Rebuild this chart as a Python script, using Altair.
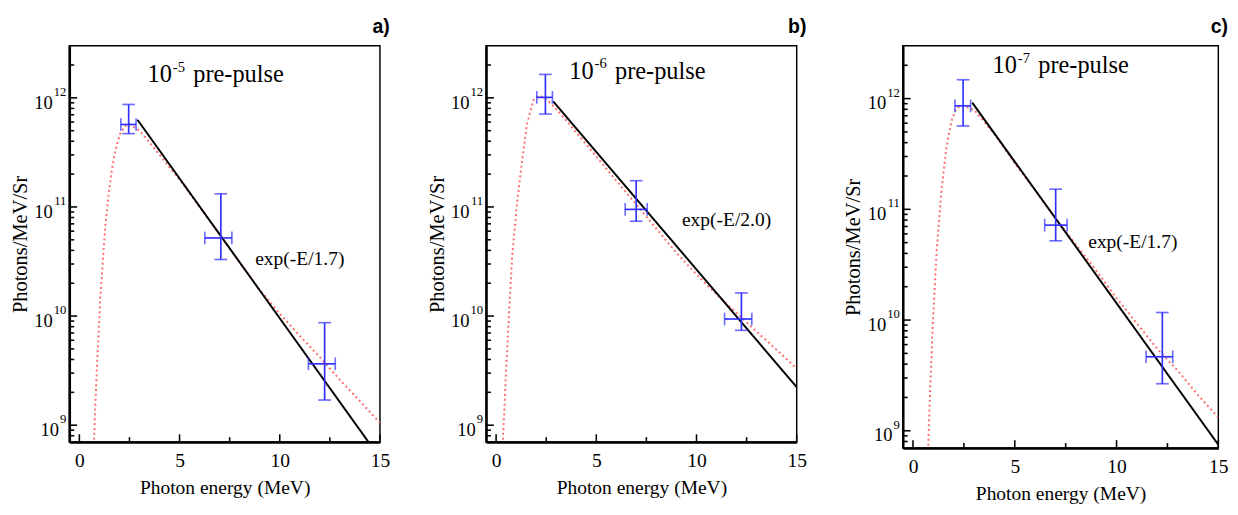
import altair as alt
import pandas as pd

# ---------------- data ----------------
panel_tags = ["a)", "b)", "c)"]
prepulse_exps = ["-5", "-6", "-7"]
fit_labels = ["exp(-E/1.7)", "exp(-E/2.0)", "exp(-E/1.7)"]

# measured points (energy in MeV, photons/MeV/Sr) with error ranges
pt_e = [[2.46, 7.06, 12.24], [2.46, 6.99, 12.24], [2.46, 7.01, 12.25]]
pt_e_lo = [[2.07, 6.26, 11.43], [2.03, 6.44, 11.40], [2.06, 6.47, 11.45]]
pt_e_hi = [[2.83, 7.61, 12.77], [2.81, 7.54, 12.76], [2.83, 7.57, 12.76]]
pt_n = [[5.7e11, 5.2e10, 3.65e9], [1.01e12, 9.5e10, 9.4e9], [8.6e11, 7.2e10, 4.66e9]]
pt_n_lo = [[4.7e11, 3.3e10, 1.7e9], [7.1e11, 7.4e10, 7.4e9], [5.66e11, 5.2e10, 2.66e9]]
pt_n_hi = [[8.7e11, 1.32e11, 8.7e9], [1.64e12, 1.74e11, 1.63e10], [1.48e12, 1.52e11, 1.17e10]]

# exponential fit lines (end points)
fit_e = [[2.90, 15.0], [2.85, 15.0], [2.91, 15.0]]
fit_n = [[6.3e11, 5.0e8], [9.3e11, 2.23e9], [9.2e11, 7.5e8]]

# simulated spectra (red dotted)
sim_e_a = [0.72, 0.80, 0.89, 1.05, 1.17, 1.30, 1.45, 1.62, 1.80, 2.02, 2.27, 2.5, 3.0, 3.5,
           4, 5, 6, 7, 8, 9, 10, 11, 12, 13, 14, 15]
sim_n_a = [6.0e8, 1.6e9, 3.8e9, 1.5e10, 3.2e10, 6.8e10, 1.26e11, 2.2e11, 3.3e11, 4.65e11,
           5.5e11, 5.75e11, 5.0e11, 3.9e11, 3.0e11, 1.78e11, 1.0e11, 5.6e10, 3.1e10,
           1.74e10, 1.05e10, 6.6e9, 4.2e9, 2.6e9, 1.66e9, 1.05e9]
sim_e_b = [0.32, 0.50, 0.65, 0.81, 1.05, 1.30, 1.54, 1.86, 2.1, 2.5, 3.0, 3.65, 4, 5, 6, 7,
           8, 9, 10, 11, 12, 13, 14, 15]
sim_n_b = [6.0e8, 3.2e9, 1.12e10, 3.7e10, 1.1e11, 2.7e11, 5.75e11, 9.5e11, 1.05e12, 9.8e11,
           7.9e11, 5.75e11, 4.8e11, 2.9e11, 1.74e11, 1.05e11, 6.3e10, 3.8e10, 2.4e10,
           1.58e10, 1.07e10, 7.2e9, 4.9e9, 3.3e9]
sim_e_c = [0.73, 0.85, 0.97, 1.16, 1.40, 1.64, 1.88, 2.12, 2.4, 3, 4, 5, 6, 7, 8, 9, 10,
           11, 12, 13, 14, 15]
sim_n_c = [6.0e8, 2.5e9, 8.9e9, 4.2e10, 1.5e11, 3.6e11, 6.2e11, 8.1e11, 8.7e11, 7.9e11,
           4.8e11, 2.6e11, 1.48e11, 8.3e10, 4.8e10, 2.8e10, 1.58e10, 9.3e9, 5.5e9, 3.5e9,
           2.1e9, 1.32e9]
sim_e = [sim_e_a, sim_e_b, sim_e_c]
sim_n = [sim_n_a, sim_n_b, sim_n_c]

# annotation anchor points (data coordinates; title given at its text baseline)
title_e = [7.14, 7.39, 7.59]
title_n = [1.39e12, 1.5e12, 1.69e12]
label_e = [11.0, 11.5, 10.8]
label_n = [3.3e10, 7.5e10, 5.1e10]

# axes
x_domain = [-0.5, 15]
y_domain = [7e8, 3e12]
x_major = [0, 5, 10, 15]
x_minor = [2.5, 7.5, 12.5]
y_major = [1e9, 1e10, 1e11, 1e12]
y_major_exp = ["9", "10", "11", "12"]
y_minor = [8e8, 9e8] + [m * d for d in [1e9, 1e10, 1e11] for m in range(2, 10)] + [2e12]

widths = [319, 319, 324]
heights = [407, 407, 413]

SERIF = "Liberation Serif"
BLUE = "#2f2fff"
RED = "#ff6b6b"

xs = alt.Scale(domain=x_domain, nice=False, zero=False)
ys = alt.Scale(type="log", domain=y_domain, nice=False)

XAXIS = alt.Axis(values=x_major, format="d", labelFontSize=20, labelPadding=9,
                 labelFlush=False, title="Photon energy (MeV)", titleFontSize=20,
                 titlePadding=8, ticks=False, grid=False, domainWidth=2.5,
                 domainColor="black")
YAXIS = alt.Axis(values=y_major, labels=False, title="Photons/MeV/Sr", titleFontSize=21,
                 titlePadding=40, ticks=False, grid=False, domainWidth=2.5,
                 domainColor="black")


def X(field):
    return alt.X(field, type="quantitative", scale=xs, axis=XAXIS)


def Y(field):
    return alt.Y(field, type="quantitative", scale=ys, axis=YAXIS)


def make_panel(i):
    w, h = widths[i], heights[i]
    sim = pd.DataFrame({"e": sim_e[i], "n": sim_n[i]})
    fit = pd.DataFrame({"e": fit_e[i], "n": fit_n[i]})
    pts = pd.DataFrame({"e": pt_e[i], "elo": pt_e_lo[i], "ehi": pt_e_hi[i],
                        "n": pt_n[i], "nlo": pt_n_lo[i], "nhi": pt_n_hi[i]})

    red = alt.Chart(sim).mark_line(color=RED, strokeDash=[2, 3], strokeWidth=2,
                                   clip=True).encode(x=X("e"), y=Y("n"))
    black = alt.Chart(fit).mark_line(color="black", strokeWidth=2, clip=True).encode(
        x=X("e"), y=Y("n"))
    vbar = alt.Chart(pts).mark_rule(color=BLUE, strokeWidth=1.7).encode(
        x=X("e"), y=Y("nlo"), y2="nhi")
    hbar = alt.Chart(pts).mark_rule(color=BLUE, strokeWidth=1.7).encode(
        x=X("elo"), x2="ehi", y=Y("n"))
    caps = []
    for fx, fy, ori in [("e", "nlo", "horizontal"), ("e", "nhi", "horizontal"),
                        ("elo", "n", "vertical"), ("ehi", "n", "vertical")]:
        caps.append(alt.Chart(pts).mark_tick(color=BLUE, orient=ori, size=13,
                                             thickness=1.7).encode(x=X(fx), y=Y(fy)))

    # inward ticks
    ymaj = alt.Chart(pd.DataFrame({"v": y_major})).mark_rule(color="black", strokeWidth=1.6).encode(
        y=Y("v"), x=alt.value(0), x2=alt.value(8))
    ymin = alt.Chart(pd.DataFrame({"v": y_minor})).mark_rule(color="black", strokeWidth=1.6).encode(
        y=Y("v"), x=alt.value(0), x2=alt.value(5))
    xmaj = alt.Chart(pd.DataFrame({"v": x_major})).mark_rule(color="black", strokeWidth=1.6).encode(
        x=X("v"), y=alt.value(h), y2=alt.value(h - 8))
    xmin = alt.Chart(pd.DataFrame({"v": x_minor})).mark_rule(color="black", strokeWidth=1.6).encode(
        x=X("v"), y=alt.value(h), y2=alt.value(h - 5))

    # y tick labels: "10" with a raised exponent
    ylab = pd.DataFrame({"v": y_major, "ex": y_major_exp,
                         "base": ["10"] * len(y_major),
                         "nch": [len(s) for s in y_major_exp]})
    ytext = []
    for nch in (1, 2):
        sub = ylab[ylab["nch"] == nch]
        ytext.append(alt.Chart(sub).mark_text(font=SERIF, fontSize=19, color="black",
                                              align="right", baseline="middle",
                                              dx=-4 - 6.5 * nch, dy=5).encode(
            x=alt.value(0), y=Y("v"), text="base:N"))
    ytext.append(alt.Chart(ylab).mark_text(font=SERIF, fontSize=13, color="black",
                                           align="right", baseline="middle",
                                           dx=-3, dy=-6).encode(
        x=alt.value(0), y=Y("v"), text="ex:N"))

    tdf = pd.DataFrame({"e": [title_e[i]], "n": [title_n[i]], "base": ["10"],
                        "ex": [prepulse_exps[i]], "rest": ["pre-pulse"]})
    t_base = alt.Chart(tdf).mark_text(font=SERIF, fontSize=25, color="black", align="right",
                                      baseline="alphabetic", dx=-52).encode(
        x=X("e"), y=Y("n"), text="base:N")
    t_exp = alt.Chart(tdf).mark_text(font=SERIF, fontSize=15, color="black", align="left",
                                     baseline="alphabetic", dx=-51, dy=-11).encode(
        x=X("e"), y=Y("n"), text="ex:N")
    t_rest = alt.Chart(tdf).mark_text(font=SERIF, fontSize=25, color="black", align="left",
                                      baseline="alphabetic", dx=-30).encode(
        x=X("e"), y=Y("n"), text="rest:N")
    lab = alt.Chart(pd.DataFrame({"e": [label_e[i]], "n": [label_n[i]], "t": [fit_labels[i]]})
                    ).mark_text(font=SERIF, fontSize=20, color="black", align="center",
                                baseline="middle").encode(x=X("e"), y=Y("n"), text="t:N")

    return alt.layer(red, black, vbar, hbar, *caps, ymaj, ymin, xmaj, xmin, *ytext,
                     t_base, t_exp, t_rest, lab).properties(
        width=w, height=h,
        title=alt.TitleParams(panel_tags[i], anchor="end", fontSize=20,
                              font="Liberation Sans", fontWeight="bold",
                              color="black", offset=9))


chart = alt.hconcat(*[make_panel(i) for i in range(3)], spacing=36).configure_view(
    stroke="black", strokeWidth=1.5).configure_axis(
    labelFont=SERIF, titleFont=SERIF, labelColor="black", titleColor="black",
    titleFontWeight="normal").properties(padding={"left": 1, "top": 2, "right": 1, "bottom": 1})

chart.save("out.html", embed_options={"renderer": "svg", "actions": False})
